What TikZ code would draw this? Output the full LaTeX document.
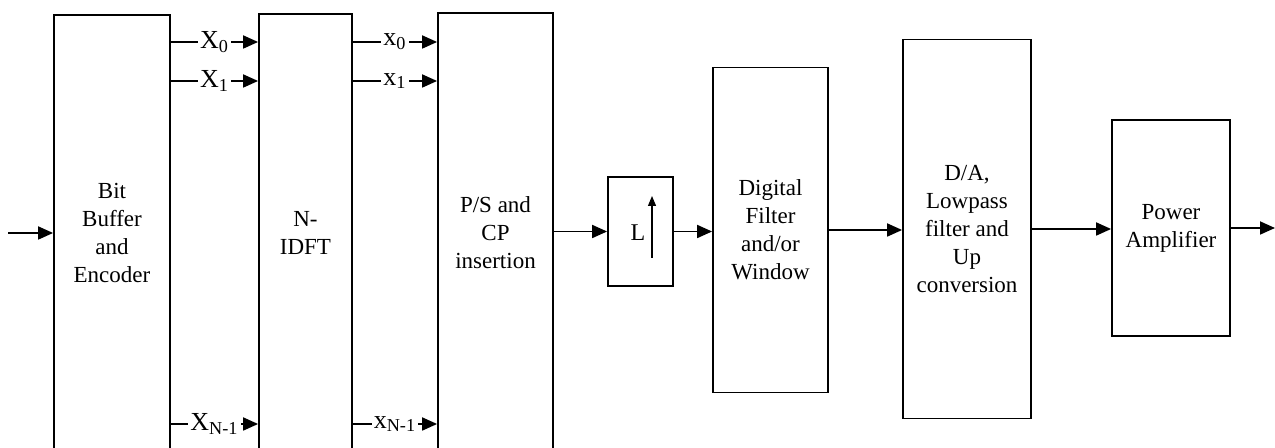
\documentclass[tikz,border=0pt]{standalone}
\usepackage{fontspec}
\setmainfont{Liberation Serif}
\usetikzlibrary{arrows.meta}
\begin{document}
\begin{tikzpicture}[x=0.5pt,y=-0.5pt,
  blk/.style={draw, line width=0.9pt, align=center, font=\fontsize{11.5}{14}\selectfont, inner sep=0pt},
  arr/.style={line width=0.9pt, -{Triangle[length=7.5pt,width=6.5pt]}},
  lbl/.style={fill=white, inner sep=1pt, font=\fontsize{13}{15}\selectfont}]
\useasboundingbox (0,0) rectangle (1275,448);
\node[blk, minimum width=58pt, minimum height=218.5pt] (b1) at (112,233.5) {Bit\\Buffer\\and\\Encoder};
\node[blk, minimum width=46.5pt, minimum height=219pt] (b2) at (305.5,233) {N-\\IDFT};
\node[blk, minimum width=57.5pt, minimum height=219.5pt] (b3) at (495.5,232.5) {P/S and\\CP\\insertion};
\node[blk, minimum width=32.5pt, minimum height=54.5pt] (up) at (640.5,231.5) {};
\node[font=\fontsize{12}{14}\selectfont] (lt) at (638,233) {L};
\draw[line width=0.6pt, -{Triangle[length=5pt,width=4pt]}] (652,258) -- (652,196);
\node[blk, minimum width=57.5pt, minimum height=162.5pt] (df) at (770.5,230) {Digital\\Filter\\and/or\\Window};
\node[blk, minimum width=64pt, minimum height=189.5pt] (da) at (967,229) {D/A,\\Lowpass\\filter and\\Up\\conversion};
\node[blk, minimum width=59pt, minimum height=108pt] (pa) at (1171,228) {Power\\Amplifier};
\coordinate (in) at (8,233);
\coordinate (out) at (1275,228);
\coordinate (r0) at (0,42);
\coordinate (r1) at (0,81);
\coordinate (rn) at (0,424);
\draw[arr] (in) -- (b1.west |- in);
\draw[arr] (b1.east |- r0) -- node[lbl]{X\textsubscript{0}} (b2.west |- r0);
\draw[arr] (b1.east |- r1) -- node[lbl]{X\textsubscript{1}} (b2.west |- r1);
\draw[arr] (b1.east |- rn) -- node[lbl]{X\textsubscript{N-1}} (b2.west |- rn);
\draw[arr] (b2.east |- r0) -- node[lbl]{x\textsubscript{0}} (b3.west |- r0);
\draw[arr] (b2.east |- r1) -- node[lbl]{x\textsubscript{1}} (b3.west |- r1);
\draw[arr] (b2.east |- rn) -- node[lbl]{x\textsubscript{N-1}} (b3.west |- rn);
\draw[arr] (b3.east |- up.west) -- (up.west);
\draw[arr] (up.east) -- (df.west |- up.east);
\draw[arr] (df.east) -- (da.west |- df.east);
\draw[arr] (da.east) -- (pa.west |- da.east);
\draw[arr] (pa.east) -- (out);
\end{tikzpicture}
\end{document}
